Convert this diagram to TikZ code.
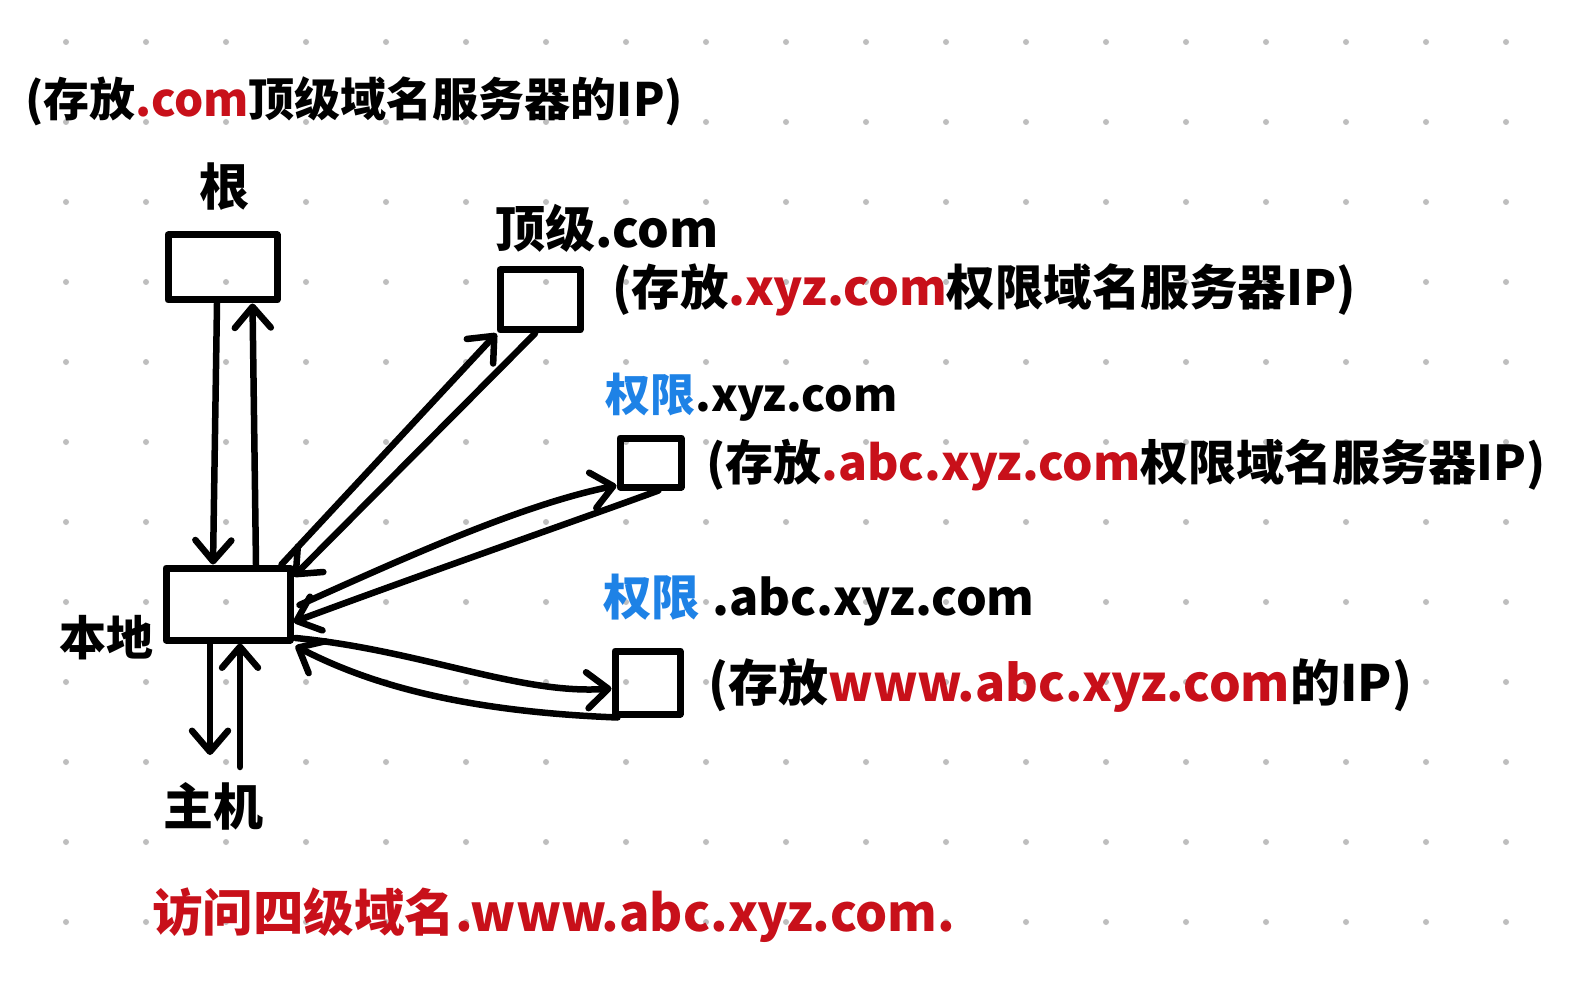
\documentclass[tikz,border=0pt]{standalone}
\usepackage{fontspec}
\newfontfamily\cjk{Noto Sans CJK SC}
\usetikzlibrary{arrows.meta}
\definecolor{hred}{RGB}{200,16,26}
\definecolor{hblue}{RGB}{30,130,230}
\definecolor{dotgray}{RGB}{190,190,190}
\tikzset{
  srv/.style={draw=black, line width=7pt, line join=round, inner sep=0pt, minimum width=#1},
  conn/.style={draw=black, line width=6.5pt, line cap=round, line join=round,
    -{Straight Barb[length=21pt, width=36pt, line cap=round, line join=round]}},
  txt/.style={font=\cjk\bfseries\fontsize{#1}{#1}\selectfont, inner sep=0pt, text=black},
}
\begin{document}
\begin{tikzpicture}[x=1pt, y=-1pt]
\fill[white] (0,0) rectangle (1585,1000);
\useasboundingbox (0,0) rectangle (1585,1000);
% dot grid
\foreach \i in {0,...,18} {
  \foreach \j in {0,...,11} {
    \fill[dotgray] (66+80*\i, 42+80*\j) circle (3pt);
  }
}
% server boxes
\node[srv=109pt, minimum height=65pt] (root) at (222.5,267.5) {};
\node[srv=80pt, minimum height=60pt] (tld) at (540,300) {};
\node[srv=124pt, minimum height=72pt] (local) at (228,604) {};
\node[srv=61pt, minimum height=49pt] (authA) at (650.5,462.5) {};
\node[srv=65pt, minimum height=63pt] (authB) at (647.5,682.5) {};
% labels
\node[txt=46, anchor=west] (toptext) at (25,101) {(存放\textcolor{hred}{.com}顶级域名服务器的IP)};
\node[txt=50] (rootlbl) at (224,187) {根};
\node[txt=50, anchor=west] (tldlbl) at (495,228) {顶级.com};
\node[txt=48.5, anchor=west] (tldnote) at (612,290) {(存放\textcolor{hred}{.xyz.com}权限域名服务器IP)};
\node[txt=45, anchor=west] (authAlbl) at (605,397) {\textcolor{hblue}{权限}.xyz.com};
\node[txt=48, anchor=west] (authAnote) at (706,465) {(存放\textcolor{hred}{.abc.xyz.com}权限域名服务器IP)};
\node[txt=48.5, anchor=west] (authBlbl) at (603,600) {\textcolor{hblue}{权限}\hspace{12pt}.abc.xyz.com};
\node[txt=50, anchor=west] (authBnote) at (708,685) {(存放\textcolor{hred}{www.abc.xyz.com}的IP)};
\node[txt=47] (locallbl) at (106,638) {本地};
\node[txt=50] (hostlbl) at (213,806) {主机};
\node[txt=50.5, anchor=west, text=hred] (bottom) at (152,915) {访问四级域名.www.abc.xyz.com.};
% host end points
\coordinate (hostA) at (210,755);
\coordinate (hostB) at (240,767);
% connectors
\draw[conn] ([xshift=-5.5pt]root.south) -- ([xshift=-15pt]local.north);
\draw[conn] ([xshift=28pt]local.north) -- ([xshift=30pt]root.south);
\draw[conn] ([xshift=-12pt]local.north east) -- (tld.south west);
\draw[conn] ([xshift=-5pt]tld.south) -- ([yshift=-12pt]local.north east);
\draw[conn] ([xshift=6pt,yshift=-1pt]local.east) .. controls (400,560) and (520,505) .. ([yshift=5pt]authA.south west);
\draw[conn] ([xshift=8pt]authA.south) .. controls (620,505) and (420,575) .. ([yshift=-18pt]local.east);
\draw[conn] ([xshift=2pt,yshift=-34pt]local.east) .. controls (420,650) and (520,695) .. ([yshift=-6pt]authB.west);
\draw[conn] ([xshift=6pt]authB.south west) .. controls (480,712) and (380,690) .. ([xshift=2pt,yshift=-42pt]local.east);
\draw[conn] ([xshift=-18pt]local.south) -- (hostA);
\draw[conn] (hostB) -- ([xshift=12pt]local.south);
\end{tikzpicture}
\end{document}
